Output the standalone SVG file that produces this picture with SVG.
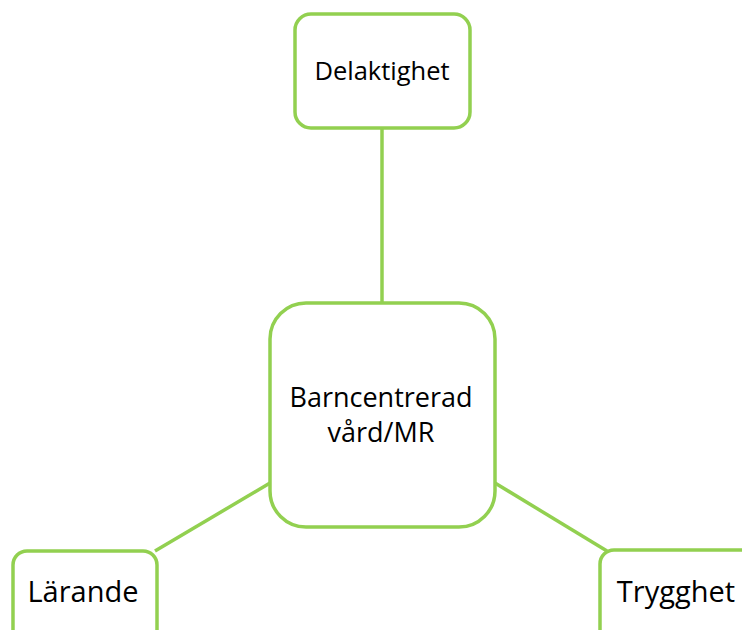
<svg xmlns="http://www.w3.org/2000/svg" width="742" height="630" viewBox="0 0 742 630">
<style>
.box{fill:#fff;stroke:#92D050;stroke-width:3.5}
.ln{stroke:#92D050;stroke-width:3.5;fill:none}
text{font-family:"Open Sans","Noto Sans","Liberation Sans",sans-serif;fill:#000;text-anchor:middle}
</style>
<rect width="742" height="630" fill="#fff"/>
<g id="connectors">
<line class="ln" x1="382" y1="128" x2="382" y2="303"/>
<line class="ln" x1="270" y1="483" x2="155" y2="551"/>
<line class="ln" x1="495" y1="483" x2="607" y2="551"/>
</g>
<g id="delaktighet">
<rect class="box" x="295" y="14" width="175" height="114" rx="16"/>
<text x="382" y="80" font-size="25.5">Delaktighet</text>
</g>
<g id="barncentrerad">
<rect class="box" x="270" y="303" width="225" height="224" rx="36"/>
<text x="381" y="407" font-size="27">Barncentrerad</text>
<text x="381" y="442" font-size="27">vård/MR</text>
</g>
<g id="larande">
<rect class="box" x="13" y="551" width="144" height="110" rx="14"/>
<text x="83" y="602" font-size="29">Lärande</text>
</g>
<g id="trygghet">
<rect class="box" x="600" y="550" width="180" height="110" rx="14"/>
<text x="676" y="602" font-size="29">Trygghet</text>
</g>
</svg>
